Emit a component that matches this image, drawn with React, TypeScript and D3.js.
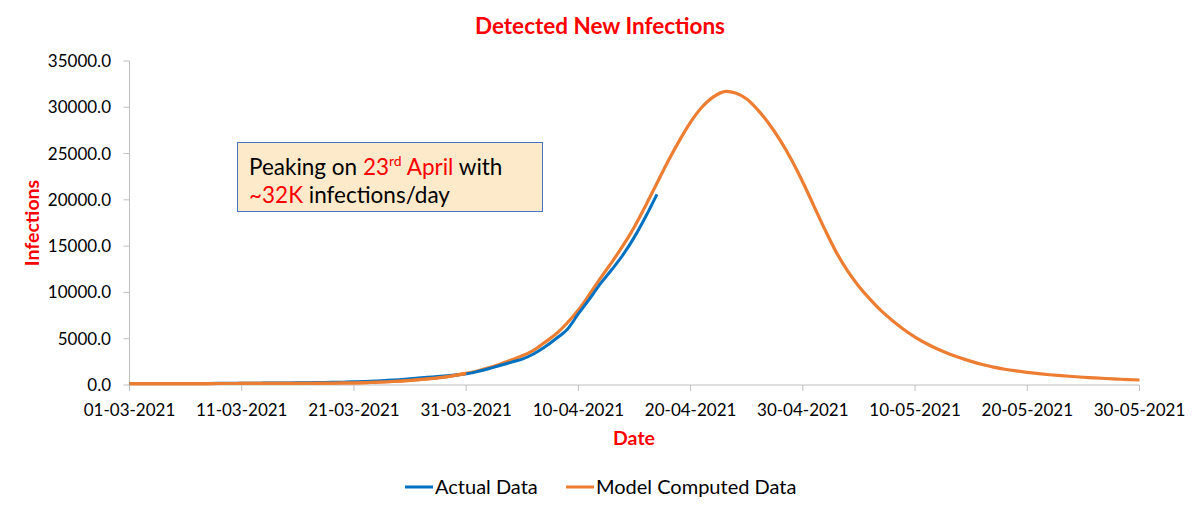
import React from "react";
import * as d3 from "d3";

const START_DATE = "2021-03-01";
const END_DATE = "2021-05-30";
const TICK_LABELS = ["01-03-2021","11-03-2021","21-03-2021","31-03-2021","10-04-2021","20-04-2021","30-04-2021","10-05-2021","20-05-2021","30-05-2021"];
const Y_TICKS = [0, 5000, 10000, 15000, 20000, 25000, 30000, 35000];

// Daily values from 01-03-2021
const actualValues = [150,155,150,160,165,170,170,175,180,185,190,195,205,215,225,240,255,270,290,310,340,375,430,500,580,670,780,870,960,1070,1200,1450,1750,2100,2450,2800,3350,4100,5000,6000,7700,9300,11000,12500,14100,16000,18200,20600];
const modelValues = [140,140,145,145,150,150,155,155,160,160,165,165,170,170,175,180,185,195,205,220,240,265,300,350,420,500,600,720,860,1040,1250,1520,1850,2250,2700,3150,3750,4600,5500,6700,8100,9800,11600,13300,15100,17100,19400,21800,24200,26400,28400,30000,31100,31700,31550,30900,29700,28200,26400,24300,21900,19300,16700,14300,12300,10650,9250,8000,6950,6000,5180,4480,3880,3380,2940,2550,2210,1930,1700,1520,1370,1230,1110,1010,920,840,770,700,640,590,540];

const SERIES_NAMES = ["Actual Data", "Model Computed Data"];
const COLORS = ["#0070c0", "#ed7d31"];

const FONT = "Lato, 'Open Sans', sans-serif";

export default function App() {
  const start = new Date(START_DATE + "T00:00:00Z");
  const end = new Date(END_DATE + "T00:00:00Z");
  const x = d3.scaleUtc().domain([start, end]).range([129.5, 1139.5]);
  const y = d3.scaleLinear().domain([0, 35000]).range([385, 61]);
  const dayDate = (i: number) => d3.utcDay.offset(start, i);
  const line = d3
    .line<number>()
    .x((_, i) => x(dayDate(i)))
    .y((d) => y(d))
    .curve(d3.curveCatmullRom.alpha(0.5));
  const ticks = TICK_LABELS.map((lab, i) => ({ lab, d: d3.utcDay.offset(start, i * 10) }));
  const axisColor = "#bfbfbf";
  const x0 = x(start);
  const x1 = x(end);
  return (
    <svg
      width={1200}
      height={512}
      style={{ position: "absolute", left: 0, top: 0, background: "#fff" }}
      fontFamily={FONT}
    >
      <rect x={0} y={0} width={1200} height={512} fill="#fff" />
      <text x={600} y={34} textAnchor="middle" fill="#ff0000" fontWeight="bold" fontSize={22.5}>
        Detected New Infections
      </text>
      {/* y axis */}
      <line x1={x0} x2={x0} y1={y(35000)} y2={y(0)} stroke={axisColor} strokeWidth={1} />
      {Y_TICKS.map((t) => (
        <g key={t}>
          <line x1={x0 - 6} x2={x0} y1={y(t)} y2={y(t)} stroke={axisColor} />
          <text x={111} y={y(t) + 6} textAnchor="end" fontSize={17} fill="#000">
            {d3.format(".1f")(t)}
          </text>
        </g>
      ))}
      {/* x axis */}
      <line x1={x0} x2={x1} y1={y(0)} y2={y(0)} stroke={axisColor} strokeWidth={1} />
      {ticks.map((t) => (
        <g key={t.lab}>
          <line x1={x(t.d)} x2={x(t.d)} y1={y(0)} y2={y(0) + 6} stroke={axisColor} />
          <text x={x(t.d)} y={416} textAnchor="middle" fontSize={17} fill="#000">
            {t.lab}
          </text>
        </g>
      ))}
      <text x={634} y={445} textAnchor="middle" fill="#ff0000" fontWeight="bold" fontSize={19.5}>
        Date
      </text>
      <text
        transform="translate(39,223) rotate(-90)"
        textAnchor="middle"
        fill="#ff0000"
        fontWeight="bold"
        fontSize={19.5}
      >
        Infections
      </text>
      {/* lines */}
      <path d={line(modelValues) || ""} fill="none" stroke={COLORS[1]} strokeWidth={3.2} />
      <path d={line(actualValues) || ""} fill="none" stroke={COLORS[0]} strokeWidth={3} />
      <path d={line(modelValues.slice(0, 31)) || ""} fill="none" stroke={COLORS[1]} strokeWidth={3.2} />
      {/* annotation */}
      <rect x={237.5} y={142.5} width={305} height={69} fill="#fdeacb" stroke="#4472c4" strokeWidth={1} />
      <text x={249} y={175} fontSize={22.5} fill="#000">
        Peaking on <tspan fill="#ff0000">23</tspan>
        <tspan fill="#ff0000" fontSize={14} dy={-9}>rd</tspan>
        <tspan fill="#ff0000" dy={9}> April</tspan> with
      </text>
      <text x={249} y={203} fontSize={22.5} fill="#000">
        <tspan fill="#ff0000">~32K</tspan> infections/day
      </text>
      {/* legend */}
      <line x1={405} x2={433} y1={487} y2={487} stroke={COLORS[0]} strokeWidth={3} />
      <text x={435} y={494} fontSize={20} fill="#000">{SERIES_NAMES[0]}</text>
      <line x1={566} x2={594} y1={487} y2={487} stroke={COLORS[1]} strokeWidth={3} />
      <text x={596} y={494} fontSize={20} fill="#000">{SERIES_NAMES[1]}</text>
    </svg>
  );
}
